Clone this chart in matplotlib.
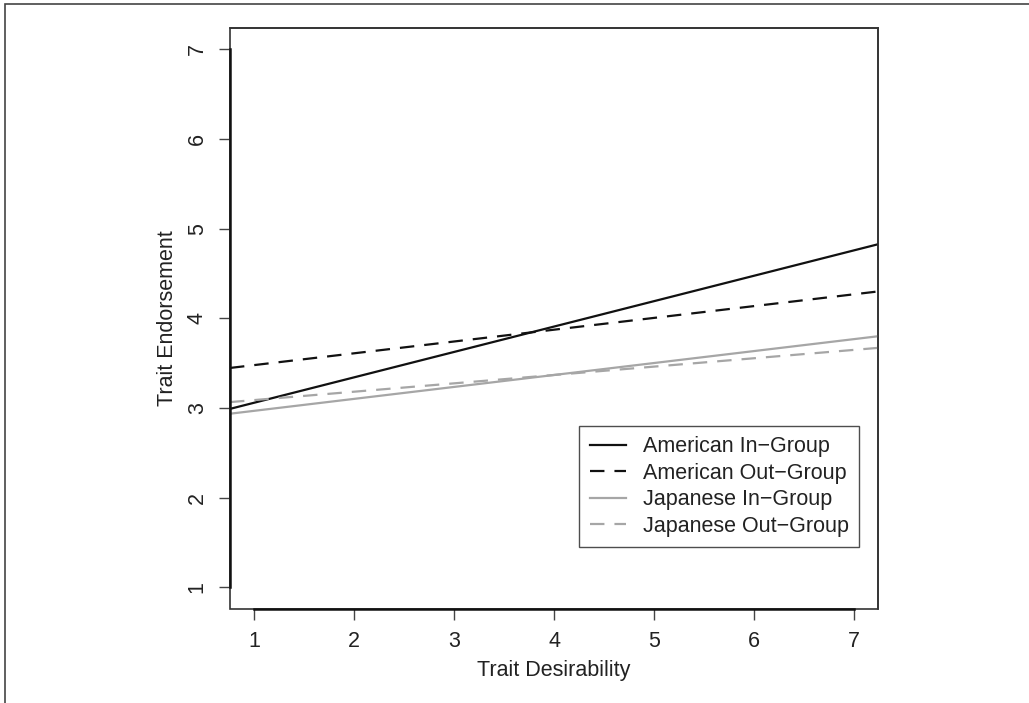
import matplotlib.pyplot as plt
from matplotlib.patches import Rectangle

# Predicted trait endorsement at desirability 1 and 7 (fitted lines)
desirability = [1, 7]
american_in = [3.06, 4.76]
american_out = [3.48, 4.27]
japanese_in = [2.97, 3.77]
japanese_out = [3.09, 3.65]

labels = ["American In\u2212Group", "American Out\u2212Group",
          "Japanese In\u2212Group", "Japanese Out\u2212Group"]
ticks = [1, 2, 3, 4, 5, 6, 7]

plt.rcParams['font.family'] = ['Liberation Sans', 'DejaVu Sans']
text_col = '#222222'
gray = '#a6a6a6'
dash = (0, (6.5, 4.5))
fs = 15.5

fig = plt.figure(figsize=(10.29, 7.03), dpi=100)
ax = fig.add_axes([0.2235, 0.1337, 0.6298, 0.8265])

# outer frame of the figure (only top and left are visible in the crop)
fig.patches.append(Rectangle((0.005, -0.5), 2, 1.494, transform=fig.transFigure,
                             fill=False, edgecolor='#444444', linewidth=1.2))

series = [american_in, american_out, japanese_in, japanese_out]
styles = [('#111111', '-'), ('#111111', dash), (gray, '-'), (gray, dash)]
for ys, (c, ls), lab in zip(series, styles, labels):
    ax.axline((desirability[0], ys[0]), (desirability[1], ys[1]),
              color=c, linestyle=ls, linewidth=1.6, label=lab)

ax.set_xlim(0.76, 7.24)
ax.set_ylim(0.76, 7.24)
ax.set_xticks(ticks)
ax.set_yticks(ticks)

# R-style axes: thin box plus heavier axis lines from first to last tick
for s in ['top', 'right']:
    ax.spines[s].set_linewidth(1.2)
    ax.spines[s].set_color('#333333')
for s in ['left', 'bottom']:
    ax.spines[s].set_bounds(1, 7)
    ax.spines[s].set_linewidth(1.8)
    ax.spines[s].set_color('#111111')
ax.add_patch(Rectangle((0, 0), 1, 1, transform=ax.transAxes, fill=False,
                       edgecolor='#333333', linewidth=1.2, clip_on=False))

ax.tick_params(axis='both', direction='out', length=8, width=1.0,
               color='#444444', labelsize=fs, labelcolor=text_col, pad=8)
ax.tick_params(axis='y', labelrotation=90)
for t in ax.get_yticklabels():
    t.set_verticalalignment('center')

ax.set_xlabel("Trait Desirability", fontsize=fs, color=text_col)
ax.set_ylabel("Trait Endorsement", fontsize=fs, color=text_col)
ax.xaxis.set_label_coords(0.5, -0.105)
ax.xaxis.label.set_verticalalignment('center')
ax.yaxis.set_label_coords(-0.097, 0.5)
ax.yaxis.label.set_verticalalignment('center')

leg = ax.legend(loc='upper left', bbox_to_anchor=(0.5386, 0.3155),
                borderaxespad=0, fontsize=fs, frameon=True, fancybox=False,
                handlelength=1.7, handletextpad=0.75, labelspacing=0.25,
                borderpad=0.5)
leg.get_frame().set_edgecolor('#222222')
leg.get_frame().set_linewidth(1.0)
for t in leg.get_texts():
    t.set_color(text_col)

fig.savefig('out.png', dpi=100, facecolor='white')
